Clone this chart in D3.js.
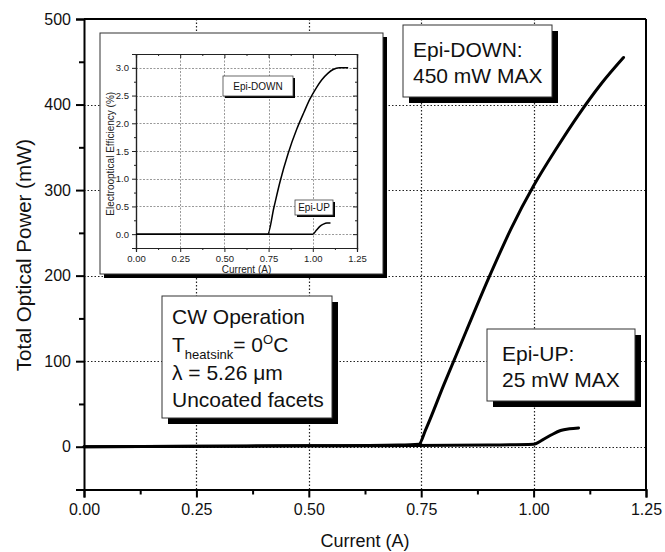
<!DOCTYPE html>
<html>
<head>
<meta charset="utf-8">
<script src="https://cdn.jsdelivr.net/npm/d3@7"></script>
<style>
  body { margin: 0; background: #fff; }
  svg { font-family: "Liberation Sans", Arial, sans-serif; }
</style>
</head>
<body>
<div id="chart"></div>
<script>
// main plot data: total optical power (mW) vs current (A)
const downCurrent = [0, 0.25, 0.5, 0.7, 0.745, 0.76, 0.8, 0.85, 0.9, 0.95, 1.0, 1.05, 1.1, 1.15, 1.2];
const downPower   = [0, 0.5, 1, 2, 3, 20, 72, 135, 197, 255, 305, 348, 388, 424, 455];
const upCurrent = [0, 0.5, 0.9, 1.0, 1.02, 1.04, 1.06, 1.08, 1.1];
const upPower   = [0, 1, 2, 3, 8, 14, 19, 21, 22];

// inset data: electrooptical efficiency (%)
const effDownCurrent = [0, 0.745, 0.78, 0.815, 0.86, 0.91, 0.95, 0.984, 1.02, 1.05, 1.085, 1.115, 1.15, 1.2];
const effDown        = [0, 0, 0.48, 0.95, 1.45, 1.9, 2.2, 2.44, 2.64, 2.78, 2.9, 2.97, 3.0, 3.0];
const effUpCurrent = [0, 1.0, 1.02, 1.04, 1.06, 1.08, 1.1];
const effUp        = [0, 0, 0.07, 0.14, 0.18, 0.2, 0.2];

const xTicks = [0, 0.25, 0.5, 0.75, 1.0, 1.25];
const yTicks = [0, 100, 200, 300, 400, 500];
const insetYTicks = [0, 0.5, 1.0, 1.5, 2.0, 2.5, 3.0];

const W = 665, H = 552;
const svg = d3.select("#chart").append("svg").attr("width", W).attr("height", H);

// ---------- main plot ----------
const x = d3.scaleLinear().domain([0, 1.25]).range([84, 646]);
const y = d3.scaleLinear().domain([-50, 500]).range([489.5, 19]);

// dotted grid, snapped to whole pixels so the dots stay sharp
const px = v => Math.round(v) + 0.5;
function dotted(g) {
  g.attr("fill", "none").attr("stroke", "#222").attr("stroke-width", 1.2).attr("stroke-dasharray", "1.5 2");
}
svg.append("g").selectAll("line").data(xTicks.slice(1, -1)).join("line")
  .attr("x1", d => px(x(d))).attr("x2", d => px(x(d))).attr("y1", y(-50)).attr("y2", y(500)).call(dotted);
svg.append("g").selectAll("line").data(yTicks.slice(0, -1)).join("line")
  .attr("x1", x(0)).attr("x2", x(1.25)).attr("y1", d => px(y(d))).attr("y2", d => px(y(d))).call(dotted);

// axes
const fmt2 = d3.format(".2f");
const xAxis = svg.append("g").attr("transform", `translate(0,${y(-50)})`)
  .call(d3.axisBottom(x).tickValues(xTicks).tickFormat(fmt2).tickSize(8).tickPadding(6));
svg.append("g").attr("transform", `translate(0,${y(-50)})`)
  .call(d3.axisBottom(x).tickValues(d3.range(0.125, 1.25, 0.25)).tickFormat("").tickSize(5))
  .select(".domain").remove();
const yAxis = svg.append("g").attr("transform", `translate(${x(0)},0)`)
  .call(d3.axisLeft(y).tickValues(yTicks).tickSize(8).tickPadding(5));
svg.append("g").attr("transform", `translate(${x(0)},0)`)
  .call(d3.axisLeft(y).tickValues([-50, 50, 150, 250, 350, 450]).tickFormat("").tickSize(5))
  .select(".domain").remove();
svg.selectAll(".tick line").attr("stroke-width", 2);
[xAxis, yAxis].forEach(a => {
  a.select(".domain").attr("stroke-width", 2);
  a.selectAll("text").attr("font-size", 16).attr("fill", "#111").style("font-family", "Liberation Sans, Arial, sans-serif");
});
// top and right frame
svg.append("line").attr("x1", x(0)).attr("x2", x(1.25)).attr("y1", y(500)).attr("y2", y(500)).attr("stroke", "#000").attr("stroke-width", 2);
svg.append("line").attr("x1", x(1.25)).attr("x2", x(1.25)).attr("y1", y(500)).attr("y2", y(-50)).attr("stroke", "#000").attr("stroke-width", 2);

svg.append("text").attr("x", 365).attr("y", 547).attr("text-anchor", "middle")
  .attr("font-size", 18).attr("fill", "#111").text("Current (A)");
svg.append("text").attr("transform", "translate(31,255) rotate(-90)").attr("text-anchor", "middle")
  .attr("font-size", 20.5).attr("fill", "#111").text("Total Optical Power (mW)");

// curves
const mainLine = d3.line().x(d => x(d[0])).y(d => y(d[1])).curve(d3.curveMonotoneX);
svg.append("path").datum(d3.zip(upCurrent, upPower)).attr("d", mainLine)
  .attr("fill", "none").attr("stroke", "#000").attr("stroke-width", 3).attr("stroke-linecap", "round");
svg.append("path").datum(d3.zip(downCurrent, downPower)).attr("d", mainLine)
  .attr("fill", "none").attr("stroke", "#000").attr("stroke-width", 3).attr("stroke-linecap", "round");

// box with drop shadow
function shadowBox(x0, y0, w, h, off) {
  svg.append("rect").attr("x", x0 + off).attr("y", y0 + off).attr("width", w).attr("height", h).attr("fill", "#000");
  svg.append("rect").attr("x", x0).attr("y", y0).attr("width", w).attr("height", h)
    .attr("fill", "#fff").attr("stroke", "#333").attr("stroke-width", 1);
}

// ---------- inset ----------
shadowBox(100, 33, 283, 241, 4);
const ix = d3.scaleLinear().domain([0, 1.25]).range([136, 357]);
const iy = d3.scaleLinear().domain([-0.25, 3.25]).range([248, 54]);

// inset grid: lighter, denser dots
function dottedInset(g) {
  g.attr("fill", "none").attr("stroke", "#999").attr("stroke-width", 1).attr("stroke-dasharray", "2 1.5");
}
svg.append("g").selectAll("line").data(xTicks.slice(1, -1)).join("line")
  .attr("x1", d => px(ix(d))).attr("x2", d => px(ix(d))).attr("y1", iy(-0.25)).attr("y2", iy(3.25)).call(dottedInset);
svg.append("g").selectAll("line").data(insetYTicks).join("line")
  .attr("x1", ix(0)).attr("x2", ix(1.25)).attr("y1", d => px(iy(d))).attr("y2", d => px(iy(d))).call(dottedInset);

const ixMinor = d3.range(0.125, 1.25, 0.25);
const iyMinor = [-0.25, 0.25, 0.75, 1.25, 1.75, 2.25, 2.75, 3.25];
const inset = [];
inset.push(svg.append("g").attr("transform", `translate(0,${iy(-0.25)})`)
  .call(d3.axisBottom(ix).tickValues(xTicks).tickFormat(fmt2).tickSize(4).tickPadding(3)));
inset.push(svg.append("g").attr("transform", `translate(0,${iy(-0.25)})`)
  .call(d3.axisBottom(ix).tickValues(ixMinor).tickFormat("").tickSize(2)));
inset.push(svg.append("g").attr("transform", `translate(0,${iy(3.25)})`)
  .call(d3.axisBottom(ix).tickValues(xTicks).tickFormat("").tickSize(4)));
inset.push(svg.append("g").attr("transform", `translate(0,${iy(3.25)})`)
  .call(d3.axisBottom(ix).tickValues(ixMinor).tickFormat("").tickSize(2)));
inset.push(svg.append("g").attr("transform", `translate(${ix(0)},0)`)
  .call(d3.axisLeft(iy).tickValues(insetYTicks).tickFormat(d3.format(".1f")).tickSize(4).tickPadding(3)));
inset.push(svg.append("g").attr("transform", `translate(${ix(0)},0)`)
  .call(d3.axisLeft(iy).tickValues(iyMinor).tickFormat("").tickSize(2)));
inset.push(svg.append("g").attr("transform", `translate(${ix(1.25)},0)`)
  .call(d3.axisLeft(iy).tickValues(insetYTicks).tickFormat("").tickSize(4)));
inset.push(svg.append("g").attr("transform", `translate(${ix(1.25)},0)`)
  .call(d3.axisLeft(iy).tickValues(iyMinor).tickFormat("").tickSize(2)));
inset.forEach(a => {
  a.select(".domain").attr("stroke", "#222").attr("stroke-width", 1.2);
  a.selectAll(".tick line").attr("stroke", "#222").attr("stroke-width", 1);
  a.selectAll("text").attr("font-size", 9.5).attr("fill", "#222").style("font-family", "Liberation Sans, Arial, sans-serif");
});

svg.append("text").attr("x", ix(0.625)).attr("y", 273).attr("text-anchor", "middle")
  .attr("font-size", 10).attr("fill", "#222").text("Current (A)");
svg.append("text").attr("transform", `translate(114,${iy(1.45)}) rotate(-90)`).attr("text-anchor", "middle")
  .attr("font-size", 10).attr("fill", "#222").text("Electrooptical Efficiency (%)");

const insetLine = d3.line().x(d => ix(d[0])).y(d => iy(d[1])).curve(d3.curveMonotoneX);
svg.append("path").datum(d3.zip(effUpCurrent, effUp)).attr("d", insetLine)
  .attr("fill", "none").attr("stroke", "#000").attr("stroke-width", 1.5);
svg.append("path").datum(d3.zip(effDownCurrent, effDown)).attr("d", insetLine)
  .attr("fill", "none").attr("stroke", "#000").attr("stroke-width", 1.5);

// inset labels
function smallLabel(x0, y0, w, h, label) {
  svg.append("rect").attr("x", x0 + 2).attr("y", y0 + 2).attr("width", w).attr("height", h).attr("fill", "#000");
  svg.append("rect").attr("x", x0).attr("y", y0).attr("width", w).attr("height", h)
    .attr("fill", "#fff").attr("stroke", "#444").attr("stroke-width", 0.8);
  svg.append("text").attr("x", x0 + w / 2).attr("y", y0 + h / 2 + 3.5).attr("text-anchor", "middle")
    .attr("font-size", 10).attr("fill", "#111").text(label);
}
smallLabel(223, 76, 70, 20, "Epi-DOWN");
smallLabel(295, 200, 38, 15, "Epi-UP");

// ---------- annotation boxes ----------
const big = 21;
shadowBox(403, 25, 149, 72, 6);
svg.append("text").attr("x", 413).attr("y", 57).attr("font-size", big).attr("fill", "#111").text("Epi-DOWN:");
svg.append("text").attr("x", 413).attr("y", 83).attr("font-size", big).attr("fill", "#111").text("450 mW MAX");

shadowBox(487, 329, 148, 72, 6);
svg.append("text").attr("x", 502).attr("y", 361).attr("font-size", big).attr("fill", "#111").text("Epi-UP:");
svg.append("text").attr("x", 502).attr("y", 387).attr("font-size", big).attr("fill", "#111").text("25 mW MAX");

shadowBox(162, 296, 170, 122, 6);
svg.append("text").attr("x", 172).attr("y", 324).attr("font-size", big).attr("fill", "#111").text("CW Operation");
const tLine = svg.append("text").attr("x", 172).attr("y", 352).attr("font-size", big).attr("fill", "#111");
tLine.append("tspan").text("T");
tLine.append("tspan").attr("font-size", 13).attr("dy", 7).text("heatsink");
tLine.append("tspan").attr("dy", -7).text("= 0");
tLine.append("tspan").attr("font-size", 13).attr("dy", -8).text("O");
tLine.append("tspan").attr("dy", 8).text("C");
svg.append("text").attr("x", 172).attr("y", 380).attr("font-size", big).attr("fill", "#111").text("λ = 5.26 μm");
svg.append("text").attr("x", 172).attr("y", 407).attr("font-size", big).attr("fill", "#111").text("Uncoated facets");
</script>
</body>
</html>
